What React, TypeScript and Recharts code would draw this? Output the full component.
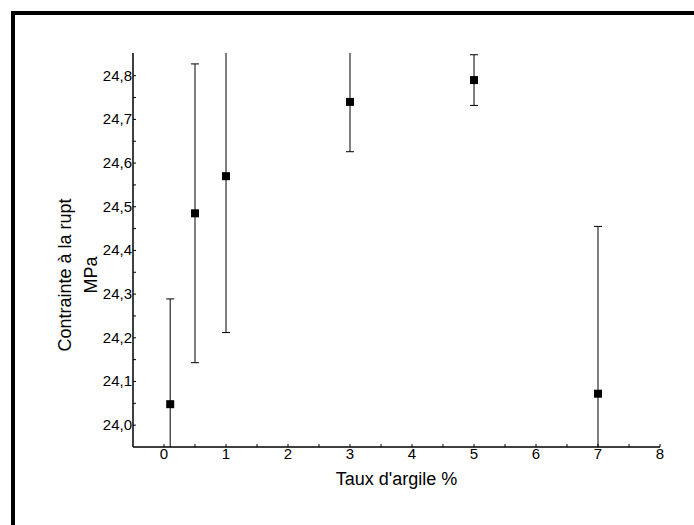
import React from "react";
import { ScatterChart, Scatter, XAxis, YAxis, ReferenceLine, Label } from "recharts";

// Breaking stress versus clay content, with standard deviation bars
const clayRates = [0.1, 0.5, 1, 3, 5, 7];
const stressMPa = [24.048, 24.485, 24.57, 24.74, 24.79, 24.072];
const stressDeviation = [0.241, 0.342, 0.358, 0.114, 0.058, 0.383];

const xTicks = [0, 0.5, 1, 1.5, 2, 2.5, 3, 3.5, 4, 4.5, 5, 5.5, 6, 6.5, 7, 7.5, 8];
const yTicks = [
  24.0, 24.05, 24.1, 24.15, 24.2, 24.25, 24.3, 24.35, 24.4, 24.45, 24.5, 24.55,
  24.6, 24.65, 24.7, 24.75, 24.8,
];

const xTitle = "Taux d'argile %";
const yTitleLines = ["Contrainte à la rupt", "MPa"];

// half width of the error bar caps, in clay-rate units
const CAP_HALF = 0.065;

const data = clayRates.map((x, i) => ({ x, y: stressMPa[i], err: stressDeviation[i] }));

const FONT = "'Liberation Sans', Arial, sans-serif";
const INK = "#000";

const XTick = (props: any) => {
  const { x, y, payload } = props;
  const v = payload.value as number;
  const major = Math.abs(v - Math.round(v)) < 1e-6;
  return (
    <g>
      <line x1={x} y1={y} x2={x} y2={y - 3} stroke={INK} strokeWidth={1} />
      {major && (
        <text x={x} y={y + 12} textAnchor="middle" fontFamily={FONT} fontSize={15} fill={INK}>
          {String(v)}
        </text>
      )}
    </g>
  );
};

const YTick = (props: any) => {
  const { x, y, payload } = props;
  const v = payload.value as number;
  const major = Math.round(v * 100) % 10 === 0;
  return (
    <g>
      <line x1={x} y1={y} x2={x + 3} y2={y} stroke={INK} strokeWidth={1} />
      {major && (
        <text x={x - 1} y={y + 5} textAnchor="end" fontFamily={FONT} fontSize={15} fill={INK}>
          {v.toFixed(1).replace(".", ",")}
        </text>
      )}
    </g>
  );
};

const XTitle = (props: any) => {
  const vb = props.viewBox;
  return (
    <text
      x={vb.x + vb.width / 2}
      y={vb.y + 38}
      textAnchor="middle"
      fontFamily={FONT}
      fontSize={18}
      fill={INK}
    >
      {xTitle}
    </text>
  );
};

const YTitle = (props: any) => {
  const vb = props.viewBox;
  const cy = vb.y + vb.height / 2 + 25;
  const baselines = [71, 97];
  return (
    <g>
      {yTitleLines.map((line, i) => (
        <text
          key={line}
          x={baselines[i]}
          y={cy}
          transform={`rotate(-90, ${baselines[i]}, ${cy})`}
          textAnchor="middle"
          fontFamily={FONT}
          fontSize={18}
          fill={INK}
        >
          {line}
        </text>
      ))}
    </g>
  );
};

const SquareMarker = (props: any) => {
  const { cx, cy } = props;
  return <rect x={cx - 4} y={cy - 4} width={8} height={8} fill={INK} />;
};

export default function App() {
  return (
    <div
      style={{
        position: "absolute",
        left: 0,
        top: 0,
        width: 694,
        height: 525,
        overflow: "hidden",
        background: "#fff",
      }}
    >
      <div
        style={{
          position: "absolute",
          left: 11,
          top: 11,
          width: 720,
          height: 560,
          border: "4px solid #000",
          boxSizing: "border-box",
        }}
      />
      <div style={{ position: "absolute", left: 0, top: 0 }}>
        <ScatterChart
          width={694}
          height={525}
          margin={{ top: 53, right: 34, bottom: 0, left: 0 }}
        >
          <XAxis
            type="number"
            dataKey="x"
            domain={[-0.5, 8]}
            ticks={xTicks}
            interval={0}
            allowDataOverflow
            height={78}
            tickSize={0}
            tickMargin={0}
            tickLine={false}
            tick={<XTick />}
            axisLine={{ stroke: INK, strokeWidth: 1.5 }}
          >
            <Label content={<XTitle />} />
          </XAxis>
          <YAxis
            type="number"
            dataKey="y"
            domain={[23.95, 24.852]}
            ticks={yTicks}
            interval={0}
            allowDataOverflow
            width={133}
            tickSize={0}
            tickMargin={0}
            tickLine={false}
            tick={<YTick />}
            axisLine={{ stroke: INK, strokeWidth: 1.5 }}
          >
            <Label content={<YTitle />} />
          </YAxis>
          {data.map((d) => (
            <ReferenceLine
              key={`bar-${d.x}`}
              segment={[
                { x: d.x, y: d.y - d.err },
                { x: d.x, y: d.y + d.err },
              ]}
              ifOverflow="hidden"
              stroke={INK}
              strokeWidth={1}
            />
          ))}
          {data.map((d) => (
            <ReferenceLine
              key={`low-${d.x}`}
              segment={[
                { x: d.x - CAP_HALF, y: d.y - d.err },
                { x: d.x + CAP_HALF, y: d.y - d.err },
              ]}
              ifOverflow="hidden"
              stroke={INK}
              strokeWidth={1}
            />
          ))}
          {data.map((d) => (
            <ReferenceLine
              key={`high-${d.x}`}
              segment={[
                { x: d.x - CAP_HALF, y: d.y + d.err },
                { x: d.x + CAP_HALF, y: d.y + d.err },
              ]}
              ifOverflow="hidden"
              stroke={INK}
              strokeWidth={1}
            />
          ))}
          <Scatter data={data} shape={<SquareMarker />} isAnimationActive={false} />
        </ScatterChart>
      </div>
    </div>
  );
}
